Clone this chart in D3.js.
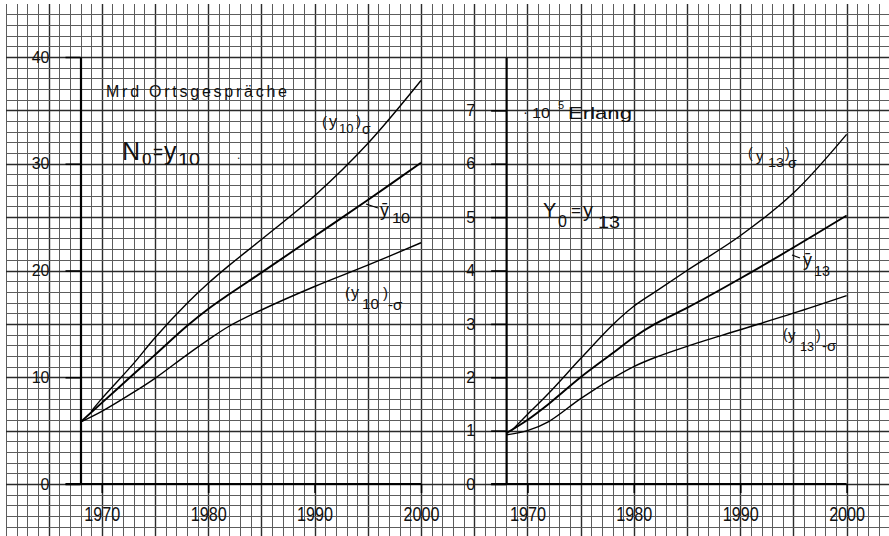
<!DOCTYPE html>
<html><head><meta charset="utf-8">
<script src="https://cdn.jsdelivr.net/npm/d3@7"></script>
<style>
html,body{margin:0;padding:0;background:#fff;}
svg{display:block;}
text{font-family:"Liberation Sans",Arial,sans-serif;fill:#111;}
</style>
</head><body><svg id="c" width="889" height="536"></svg>
<script>
// ---- data ----
const leftMeanYears  = [1968,1970,1973,1975,1978,1980,1982,1985,1990,1995,2000];
const leftUpperYears = [1969,1970,1973,1975,1978,1980,1982,1985,1990,1995,2000];
const y10Plus  = [6.8,8.0,11.3,13.7,16.9,18.8,20.5,22.9,27.0,31.9,37.8];
const y10Mean  = [5.8,7.6,10.3,12.1,14.8,16.4,17.8,19.8,23.2,26.6,30.1];
const y10Minus = [5.8,6.8,8.6,9.9,12.1,13.5,14.8,16.3,18.5,20.5,22.6];
const rightMeanYears  = [1968,1970,1972,1975,1978,1980,1982,1985,1990,1995,2000];
const rightUpperYears = [1968.5,1970,1972,1975,1978,1980,1982,1985,1990,1995,2000];
const y13Plus  = [1.0,1.3,1.7,2.35,2.98,3.33,3.6,4.0,4.65,5.45,6.55];
const y13Mean  = [0.95,1.2,1.5,2.0,2.45,2.75,3.0,3.3,3.85,4.43,5.03];
const y13Minus = [0.92,1.0,1.17,1.6,1.98,2.2,2.37,2.58,2.89,3.2,3.53];
const xTicks = [1970,1980,1990,2000];
const leftYTicks = [0,10,20,30,40];
const rightYTicks = [0,1,2,3,4,5,6,7];

const svg = d3.select("#c");
const W = 889, H = 536;
const FONT = '"Liberation Sans",Arial,sans-serif';

// scales
const xL = d3.scaleLinear().domain([1968,2000]).range([80.5,421]);
const xR = d3.scaleLinear().domain([1968,2000]).range([xL(2008), xL(2040)]);
const yL = d3.scaleLinear().domain([0,40]).range([484,57]);
const yR = d3.scaleLinear().domain([0,8]).range([484,57]);

// ---- graph paper grid (1 cell = 1 year / 1 unit of left scale) ----
const grid = svg.append("g");
d3.range(1961, 2046).forEach(yr => {
  const x = Math.round(xL(yr)) + 0.5;
  if (x > W) return;
  const major = yr % 5 === 0;
  grid.append("line").attr("x1", x).attr("x2", x).attr("y1", 4).attr("y2", H)
    .attr("stroke", major ? "#2a2a2a" : "#5c5c5c").attr("stroke-width", major ? 1.4 : 1);
});
d3.range(-4, 45).forEach(v => {
  const y = Math.round(yL(v)) + 0.5;
  const major = v % 5 === 0;
  grid.append("line").attr("x1", 6).attr("x2", W).attr("y1", y).attr("y2", y)
    .attr("stroke", major ? "#2a2a2a" : "#5c5c5c").attr("stroke-width", major ? 1.4 : 1);
});

// ---- axes ----
function panel(xs, ys, yTicks) {
  const g = svg.append("g");
  const ya = g.append("g").attr("transform", `translate(${xs(1968)},0)`)
    .call(d3.axisLeft(ys).tickValues(yTicks).tickSize(15).tickSizeOuter(0).tickPadding(16).tickFormat(d3.format("d")));
  ya.select(".domain").attr("stroke", "#000").attr("stroke-width", 2.2);
  ya.selectAll(".tick line").attr("stroke", "#000").attr("stroke-width", 1.6);
  ya.selectAll("text").attr("font-size", 16).attr("font-family", FONT).attr("fill", "#111");
  const xa = g.append("g").attr("transform", `translate(0,${ys(0)})`)
    .call(d3.axisBottom(xs).tickValues(xTicks).tickSize(9).tickPadding(14).tickFormat(d3.format("d")));
  xa.select(".domain").remove();
  xa.selectAll(".tick line").attr("stroke", "#000").attr("stroke-width", 1.6);
  xa.selectAll("text").attr("font-size", 20).attr("font-family", FONT)
    .attr("fill", "#111").attr("textLength", 36).attr("lengthAdjust", "spacingAndGlyphs");
  g.append("line").attr("x1", xs(1968) - 15).attr("x2", xs(2000))
    .attr("y1", ys(0)).attr("y2", ys(0)).attr("stroke", "#000").attr("stroke-width", 2.2);
}
panel(xL, yL, leftYTicks);
panel(xR, yR, rightYTicks);

// ---- curves ----
function curve(xs, ys, years, vals, w) {
  const line = d3.line().x(d => xs(d[0])).y(d => ys(d[1])).curve(d3.curveCatmullRom.alpha(0.5));
  svg.append("path").attr("d", line(d3.zip(years, vals)))
    .attr("fill", "none").attr("stroke", "#000").attr("stroke-width", w);
}
curve(xL, yL, leftUpperYears, y10Plus, 1.4);
curve(xL, yL, leftMeanYears, y10Mean, 1.9);
curve(xL, yL, leftMeanYears, y10Minus, 1.4);
curve(xR, yR, rightUpperYears, y13Plus, 1.4);
curve(xR, yR, rightMeanYears, y13Mean, 1.9);
curve(xR, yR, rightMeanYears, y13Minus, 1.4);

// ---- annotations ----
function label(x, y, parts) {
  const t = svg.append("text").attr("x", x).attr("y", y);
  parts.forEach(p => {
    const s = t.append("tspan").attr("x", x + p[1]).attr("y", y + p[2]).attr("font-size", p[3]).text(p[0]);
    if (p[4]) s.attr("textLength", p[4]).attr("lengthAdjust", "spacingAndGlyphs");
  });
  return t;
}
svg.append("text").attr("x", 106).attr("y", 97).attr("font-size", 16)
  .attr("textLength", 181).attr("lengthAdjust", "spacing").text("Mrd Ortsgespräche");
label(122, 160, [["N",0,0,25],["0",20,5,17],["=",31,-1,20,10],["y",42,0,25],["10",56,5,17,22]]);
svg.append("text").attr("x", 237).attr("y", 159).attr("font-size", 12).text(".");
label(322, 127, [["(",0,0,15],["y",7,0,16],["10",17,6,13],[")",34,-1,15],["σ",40,7,14]]);
svg.append("line").attr("x1", 366).attr("y1", 204).attr("x2", 378).attr("y2", 208).attr("stroke", "#000").attr("stroke-width", 1.3);
label(380, 216, [["ȳ",0,0,18],["10",12,7,14,18]]);
label(345, 298, [["(",0,0,15],["y",6,0,16],["10",17,11,14,17],[")",38,0,15],["-σ",43,12,15]]);

label(523, 118, [["·",0,-1,15],["10",9,0,15,18],["5",35,-9,11],["Erlang",45,1,16,64]]);
label(543, 217, [["Y",0,0,20],["0",15,10,16],["=",28,-1,17,10],["y",40,0,20],["13",55,11,16,22]]);
label(748, 158, [["(",0,0,14],["y",8,3,15],["13",20,9,13,16],[")",37,0,14],["σ",40,10,14]]);
svg.append("line").attr("x1", 792).attr("y1", 255).attr("x2", 800).attr("y2", 258).attr("stroke", "#000").attr("stroke-width", 1.3);
label(803, 266, [["ȳ",0,0,18],["13",11,10,14,16]]);
label(783, 339, [["(",0,0,14],["y",5,1,15],["13",17,12,13,14],[")",33,1,14],["-σ",39,12,15]]);
</script>
</body></html>
